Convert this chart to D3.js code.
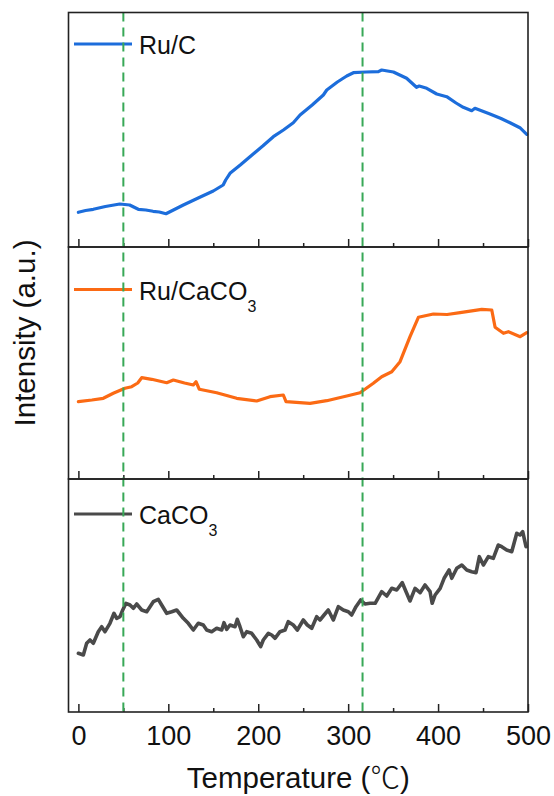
<!DOCTYPE html>
<html>
<head>
<meta charset="utf-8">
<script src="https://cdn.jsdelivr.net/npm/d3@7"></script>
<style>
  html, body { margin: 0; padding: 0; background: #fff; }
  svg { display: block; font-family: "Liberation Sans", Arial, sans-serif; }
</style>
</head>
<body>
<svg id="chart" width="554" height="796"></svg>
<script>
// ---- data (temperature in °C, intensity in arbitrary units) ----
const xTicks = [0, 100, 200, 300, 400, 500];
const xMinorTicks = [50, 150, 250, 350, 450];
const markerTemps = [50, 316];

const ruCTemp = [0, 8, 16.6, 30, 46, 57, 66.6, 75, 83, 90, 97.4, 116.7, 135, 150, 161, 163.8, 168.6, 180, 190.8, 205, 216.8, 228, 239, 246.5, 260, 272.4, 276.2, 288, 298.4, 305.8, 320, 333.6, 337.3, 350.3, 365, 376, 379, 387.4, 398.5, 409.6, 420, 428, 437.4, 441, 457.7, 470, 480, 491, 498.6];
const ruCVal  = [34.7, 36.5, 37.7, 40.5, 43, 42, 37.7, 37, 35.7, 35, 33.3, 42, 49.7, 56, 62, 67, 73.7, 82, 90.3, 101, 110.3, 117, 124.3, 132, 142, 152, 157, 165, 171, 174.3, 175, 175.3, 177, 175, 168.7, 159.7, 161, 158.7, 153, 150.3, 144, 139.7, 136.3, 138.7, 133, 128.5, 124.3, 119.3, 112.7];

const ruCaCO3Temp = [0, 15, 27.7, 38.8, 51.8, 59.3, 66, 70.4, 81.5, 98.2, 105.6, 118, 127.8, 130.8, 134.5, 153.8, 176, 198.3, 213.1, 227.9, 230.9, 257.6, 276.2, 298.4, 313.2, 328, 337.3, 348.5, 357.7, 368.8, 378.1, 394.8, 410, 424.5, 448.6, 459.7, 463.4, 472.7, 478.2, 491.3, 498.6];
const ruCaCO3Val  = [77.3, 79, 80.7, 85.7, 90.7, 92.3, 96, 101.3, 99.7, 96.3, 99, 96, 94, 97.3, 89.7, 86.3, 80.7, 78, 82.3, 84, 77.3, 75.7, 78.3, 83, 86.3, 95.7, 102.3, 107.3, 117.3, 142.3, 161.7, 165, 164.5, 166.3, 169.7, 169, 151.7, 145.7, 147.3, 142.3, 146.3];

const caCO3Temp = [0, 5.5, 9.2, 12.9, 16.6, 22.1, 25.9, 29.6, 35.1, 39.6, 42.6, 46.3, 49.3, 52.9, 57.4, 61.1, 64.8, 70.4, 76, 83.3, 88.9, 92.6, 98.2, 103.8, 109.3, 116.7, 122.2, 127.8, 133.3, 138.9, 142.7, 148.2, 153.8, 159.4, 161.9, 164.9, 168.6, 174.2, 176.7, 179.7, 183.4, 187.2, 192.7, 198.3, 202.7, 205.6, 211.2, 215, 218.6, 224.2, 229.8, 233.4, 239, 243.5, 250.1, 254.6, 259.5, 265, 268.7, 273.2, 277.9, 283.5, 289.1, 294.6, 300.2, 303.9, 308.7, 313.9, 318.7, 324.3, 330, 337.3, 342.9, 348.5, 354, 360.2, 364.4, 368.8, 374.4, 380, 385.5, 391.1, 393.4, 396.7, 402.3, 406.7, 412.3, 415.2, 420.8, 426.4, 431.9, 437.4, 442.2, 445.9, 450.4, 455.9, 461.4, 467, 470.8, 476.3, 481.9, 487.5, 491.1, 494.1, 497.8];
const caCO3Val  = [58.7, 57, 68.7, 72, 68.7, 80.3, 85.3, 80.3, 88.7, 98.7, 93.7, 95.3, 102, 108.7, 107, 103.7, 108, 102, 100.3, 110.3, 112.7, 107, 98.7, 100.3, 102, 93.7, 88.7, 82, 88.7, 87, 82, 80.3, 83.7, 82, 89.3, 82.7, 87, 85.3, 92.7, 85.3, 75.3, 80.3, 78.7, 72, 65.3, 72, 78.7, 77, 73.7, 80.3, 82, 90.3, 87, 82, 92, 87, 83.7, 95.3, 92, 97, 102, 92, 105.3, 102, 100.3, 97, 105.3, 112, 108, 108.7, 108.7, 120.3, 116, 123.7, 122, 129.3, 120.3, 111, 123.7, 119.3, 127, 120.3, 108.7, 117, 123.7, 133.7, 142, 133.7, 143.7, 147, 142, 140.3, 139.3, 155.3, 147, 155.3, 153.7, 167, 165.3, 162, 160.3, 178.7, 177, 180.3, 165.3];

const seriesNames = ["Ru/C", "Ru/CaCO3", "CaCO3"];
const seriesColors = ["#1c6ddb", "#fb6a14", "#4a4a4a"];

// ---- layout ----
const svg = d3.select("#chart");
const left = 68.5, right = 528;
const panelEdges = [12.5, 247, 479, 712];
const x = d3.scaleLinear().domain([-11, 500]).range([left, right]);

const panels = [
  { temp: ruCTemp, val: ruCVal, legendY: 44 },
  { temp: ruCaCO3Temp, val: ruCaCO3Val, legendY: 289.5 },
  { temp: caCO3Temp, val: caCO3Val, legendY: 514 }
];

panels.forEach((p, i) => {
  const bottom = panelEdges[i + 1];
  const y = d3.scaleLinear().domain([0, 234]).range([bottom, bottom - 234]);
  const g = svg.append("g");

  // tick marks along the panel bottom, pointing inward
  const axis = d3.axisTop(x).tickValues(xTicks).tickSize(8).tickFormat("");
  const ax = g.append("g").attr("transform", `translate(0,${bottom})`).call(axis);
  ax.select(".domain").remove();
  ax.selectAll("line").attr("stroke", "#222").attr("stroke-width", 1.5);
  const axMinor = d3.axisTop(x).tickValues(xMinorTicks).tickSize(4).tickFormat("");
  const axm = g.append("g").attr("transform", `translate(0,${bottom})`).call(axMinor);
  axm.select(".domain").remove();
  axm.selectAll("line").attr("stroke", "#222").attr("stroke-width", 1.5);

  // data line
  const pts = p.temp.map((t, k) => [t, p.val[k]]);
  g.append("path")
    .datum(pts)
    .attr("fill", "none")
    .attr("stroke", seriesColors[i])
    .attr("stroke-width", i === 2 ? 3.6 : 3.2)
    .attr("stroke-linejoin", "round")
    .attr("stroke-linecap", "round")
    .attr("d", d3.line().x(d => x(d[0])).y(d => y(d[1])));

  // legend
  g.append("line")
    .attr("x1", 74).attr("x2", 132)
    .attr("y1", p.legendY).attr("y2", p.legendY)
    .attr("stroke", seriesColors[i]).attr("stroke-width", 3);
  const name = seriesNames[i];
  const txt = g.append("text")
    .attr("x", 139).attr("y", p.legendY + 10)
    .attr("font-size", 25).attr("fill", "#111");
  if (name.endsWith("3")) {
    txt.append("tspan").text(name.slice(0, -1));
    txt.append("tspan").attr("font-size", 16).attr("dy", 12).text("3");
  } else {
    txt.text(name);
  }
});

// dashed markers spanning all panels
svg.append("g").selectAll("line")
  .data(markerTemps)
  .join("line")
  .attr("x1", d => x(d)).attr("x2", d => x(d))
  .attr("y1", panelEdges[0]).attr("y2", panelEdges[3])
  .attr("stroke", "#38a857").attr("stroke-width", 2)
  .attr("stroke-dasharray", "9,6");

// panel frames
for (let i = 0; i < 3; i++) {
  svg.append("rect")
    .attr("x", left).attr("y", panelEdges[i])
    .attr("width", right - left).attr("height", panelEdges[i + 1] - panelEdges[i])
    .attr("fill", "none").attr("stroke", "#222").attr("stroke-width", 1.6);
}

// bottom tick labels
const labelAxis = d3.axisBottom(x).tickValues(xTicks).tickSize(0).tickPadding(0).tickFormat(d3.format("d"));
const la = svg.append("g").attr("transform", `translate(0,${panelEdges[3]})`).call(labelAxis);
la.select(".domain").remove();
la.selectAll("text")
  .attr("font-family", "Liberation Sans, Arial, sans-serif")
  .attr("font-size", 27).attr("fill", "#111")
  .attr("dy", null).attr("y", 33);

// axis titles
const xt = svg.append("text")
  .attr("x", (left + right) / 2).attr("y", 788)
  .attr("text-anchor", "middle").attr("font-size", 29.5).attr("fill", "#111");
xt.append("tspan").text("Temperature (");
xt.append("tspan").attr("font-family", "Noto Sans CJK SC").attr("font-weight", 300).text("℃");
xt.append("tspan").text(")");
svg.append("text")
  .attr("transform", "translate(35,333) rotate(-90)")
  .attr("text-anchor", "middle").attr("font-size", 29.5).attr("fill", "#111")
  .text("Intensity (a.u.)");
</script>
</body>
</html>
